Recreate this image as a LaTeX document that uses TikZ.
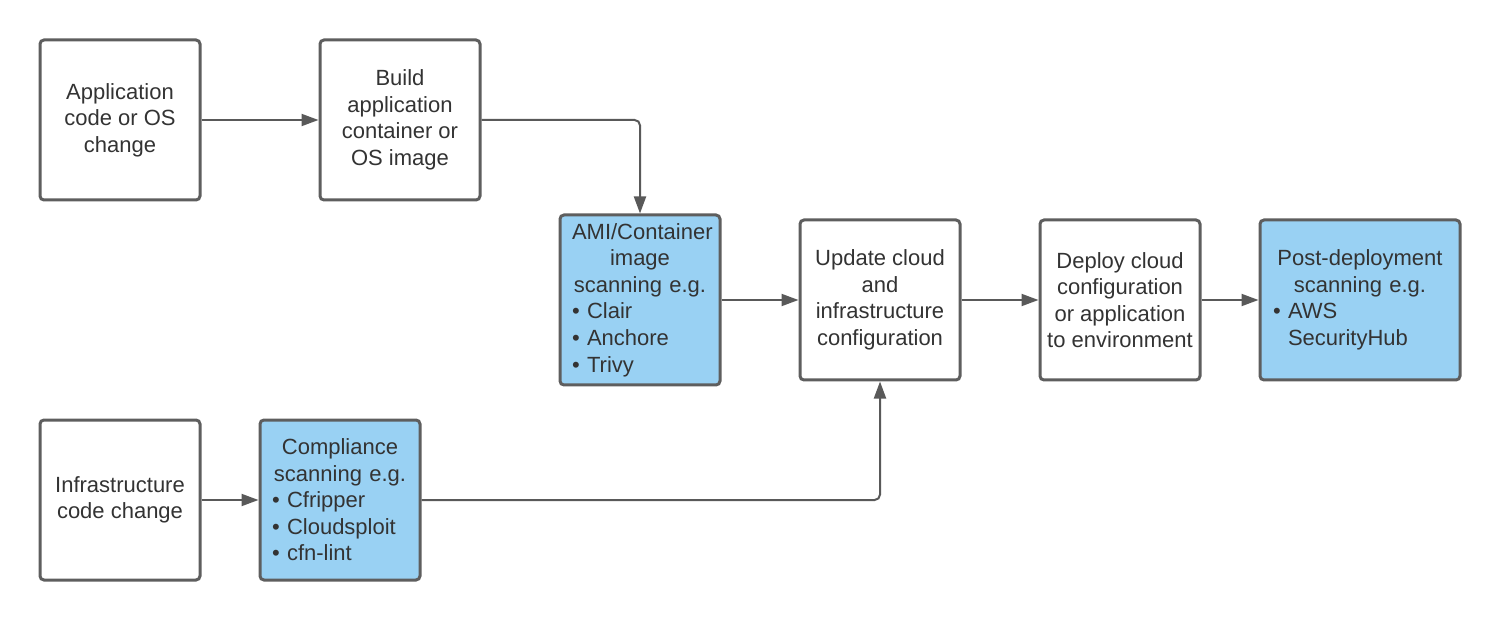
\documentclass[tikz,border=0pt]{standalone}
\usepackage{fontspec}
\setmainfont{Liberation Sans}
\usepackage{xcolor}
\usepackage{tikz}
\usetikzlibrary{calc, positioning, arrows.meta}
\definecolor{boxline}{HTML}{5E5E5E}
\definecolor{flowline}{HTML}{595959}
\definecolor{scanblue}{HTML}{99D1F3}
\definecolor{textgray}{HTML}{333333}
\tikzset{
    stage/.style={rectangle, draw=boxline, line width=2.25pt, fill=white, rounded corners=3pt, align=center, minimum width=120pt, minimum height=120pt, inner sep=0pt, text=textgray, font=\fontsize{16.5pt}{19.9pt}\selectfont},
    scan/.style={stage, fill=scanblue, align=left, text width=102pt},
    flow/.style={-{Triangle[length=12.75pt, width=9pt]}, draw=flowline, line width=1.5pt, rounded corners=4pt}
}

\begin{document}
\begin{tikzpicture}[x=0.75pt, y=-0.75pt]
        \useasboundingbox (0,0) rectangle (1500,620);

        % Application path
        \node[stage] (appchange) at (120,120) {Application\\code or OS\\change};
        \node[stage] (build) at (400,120) {Build\\application\\container or\\OS image};
        \node[scan, minimum height=127.5pt] (amiscan) at (640,300) {{\centering AMI/Container\\image\\scanning e.g.\par}\textbullet~Clair\\\textbullet~Anchore\\\textbullet~Trivy};

        % Deployment path
        \node[stage] (update) at (880,300) {Update cloud\\and\\infrastructure\\configuration};
        \node[stage] (deploy) at (1120,300) {Deploy cloud\\configuration\\or application\\to environment};
        \node[scan, minimum width=150pt, text width=130.5pt] (postscan) at (1360,300) {{\centering Post-deployment\\scanning e.g.\par}\textbullet~AWS\\\phantom{\textbullet~}SecurityHub};

        % Infrastructure path
        \node[stage] (infrachange) at (120,500) {Infrastructure\\code change};
        \node[scan] (compscan) at (340,500) {{\centering Compliance\\scanning e.g.\par}\textbullet~Cfripper\\\textbullet~Cloudsploit\\\textbullet~cfn-lint};

        % Connectors
        \draw[flow] (appchange) -- (build);
        \draw[flow] (build.east) -| (amiscan.north);
        \draw[flow] (amiscan.east |- update.west) -- (update.west);
        \draw[flow] (update) -- (deploy);
        \draw[flow] (deploy) -- (postscan);
        \draw[flow] (infrachange) -- (compscan);
        \draw[flow] (compscan.east) -| (update.south);
    \end{tikzpicture}
\end{document}
